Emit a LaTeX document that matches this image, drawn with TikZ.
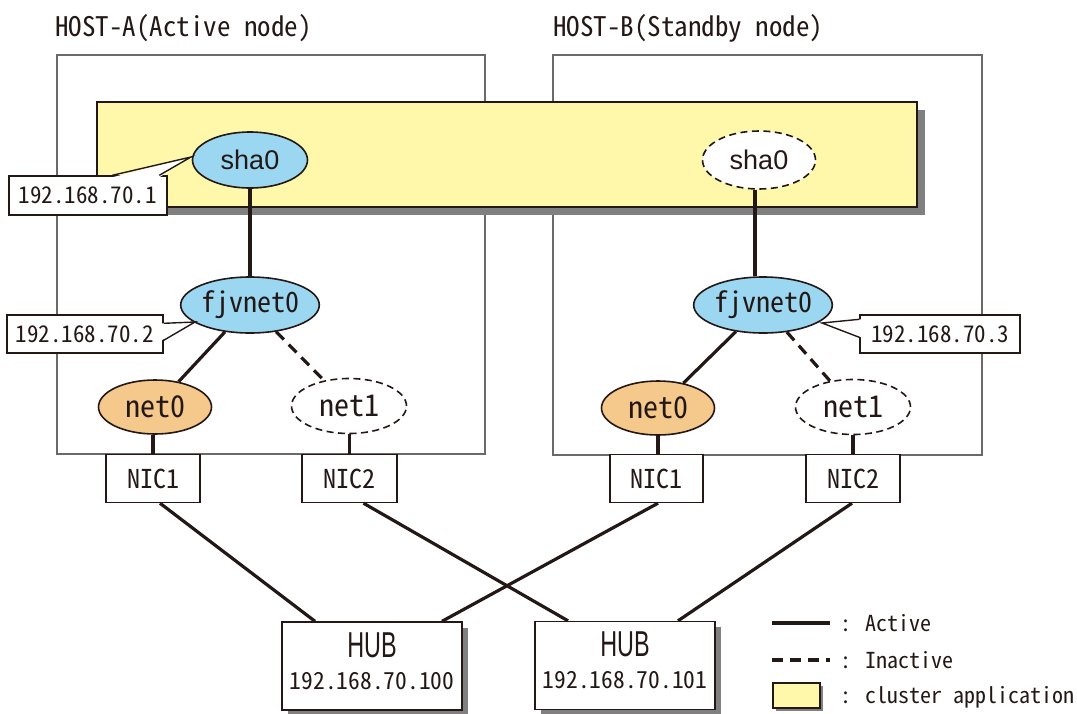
\documentclass[tikz,border=0pt]{standalone}
\usepackage{fontspec}
\usetikzlibrary{shapes.geometric,calc}
\newfontfamily\mono{Noto Sans CJK JP}[RawFeature=+hwid]
\newfontfamily\sansA{Liberation Sans}
\newfontfamily\sansN{Liberation Sans}[FakeStretch=0.65]
\newcommand\fs[1]{\fontsize{#1}{#1}\selectfont}
\definecolor{linecol}{HTML}{231815}
\definecolor{hostgray}{HTML}{6A6A6A}
\definecolor{skyblue}{RGB}{155,215,240}
\definecolor{orangefill}{RGB}{245,200,140}
\definecolor{clusteryellow}{RGB}{255,247,170}
\definecolor{shadowgray}{HTML}{808080}
\begin{document}
\begin{tikzpicture}[x=1pt,y=-1pt,
  every node/.style={text=linecol},
  hostbox/.style={rectangle, draw=hostgray, line width=1.6pt, inner sep=0pt},
  hostlabel/.style={anchor=west, inner sep=0pt, font=\mono\fs{27}},
  cluster/.style={rectangle, fill=clusteryellow, draw=linecol, line width=1.2pt, inner sep=0pt},
  ell/.style={ellipse, draw=linecol, line width=1.6pt, inner sep=0pt, minimum width=115pt, minimum height=56pt},
  blueell/.style={ell, fill=skyblue},
  orangeell/.style={ell, fill=orangefill},
  inactell/.style={ell, fill=white, dash pattern=on 7pt off 4.5pt},
  nic/.style={rectangle, draw=linecol, line width=1.4pt, fill=white, minimum width=94pt, minimum height=48pt, inner sep=0pt, font=\mono\fs{26}},
  link/.style={line width=3.2pt, draw=linecol},
  inlink/.style={link, dash pattern=on 11pt off 7pt},
  thin/.style={line width=1.4pt, draw=linecol},
  callout/.style={rectangle, draw=linecol, line width=1.4pt, fill=white, inner sep=0pt, font=\mono\fs{23}},
  hub/.style={rectangle, draw=linecol, line width=1.4pt, fill=white, minimum width=180pt, minimum height=88pt, inner sep=0pt},
  hubtext/.style={inner sep=0pt},
  legtext/.style={anchor=west, inner sep=0pt, font=\mono\fs{22}}
]
\useasboundingbox (0,0) rectangle (1077,713);

% hosts
\node[hostbox, minimum width=428pt, minimum height=399pt] (hostA) at (271,254.5) {};
\node[hostbox, minimum width=429pt, minimum height=400pt] (hostB) at (767.5,255) {};
\node[hostlabel] (labA) at (55,28) {HOST-A(Active node)};
\node[hostlabel] (labB) at (553,28) {HOST-B(Standby node)};

% cluster application
\fill[shadowgray] (105,110) rectangle (925,215);
\node[cluster, minimum width=820pt, minimum height=105pt] (clus) at (507,154.5) {};

% interfaces
\node[blueell, font=\sansA\fs{27}] (shaA) at (250,160) {sha0};
\node[blueell, font=\mono\fs{28}] (fjvA) at (250,305) {fjvnet0};
\node[orangeell, minimum width=113pt, minimum height=54pt, font=\mono\fs{30}] (net0A) at (155,407) {net0};
\node[inactell, minimum height=55pt, font=\mono\fs{30}] (net1A) at (349,406) {net1};
\node[nic] (nic1A) at (153,478.5) {NIC1};
\node[nic, minimum width=95pt] (nic2A) at (349.5,478.5) {NIC2};

\node[inactell, minimum width=113pt, minimum height=58pt, font=\sansA\fs{27}] (shaB) at (759,160) {sha0};
\node[blueell, font=\mono\fs{28}] (fjvB) at (763,305) {fjvnet0};
\node[orangeell, minimum width=113pt, minimum height=54pt, font=\mono\fs{30}] (net0B) at (658,408) {net0};
\node[inactell, minimum height=55pt, font=\mono\fs{30}] (net1B) at (853,407) {net1};
\node[nic, minimum width=93pt] (nic1B) at (656.5,478.5) {NIC1};
\node[nic] (nic2B) at (853,478.5) {NIC2};

% hubs
\fill[shadowgray] (288,628) rectangle (468,716);
\fill[shadowgray] (541,627) rectangle (721,716);
\node[hub] (hub1) at (372,666) {};
\node[hub] (hub2) at (625,665.5) {};
\node[hubtext, font=\sansN\fs{36}] (hub1t) at (372,645) {HUB};
\node[hubtext, font=\mono\fs{23.5}] (hub1a) at (372,681) {192.168.70.100};
\node[hubtext, font=\sansN\fs{36}] (hub2t) at (625,644) {HUB};
\node[hubtext, font=\mono\fs{23.5}] (hub2a) at (625,680) {192.168.70.101};

% links inside hosts
\draw[link] (shaA) -- (fjvA);
\draw[link] (fjvA) -- (net0A);
\draw[inlink] (fjvA) -- (net1A);
\draw[link] (net0A.south -| nic1A) -- (nic1A.north);
\draw[link] (net1A.south -| nic2A) -- (nic2A.north);
\draw[link] ([xshift=-4pt]shaB.south) -- ([xshift=-4pt]shaB.south |- fjvB.north);
\draw[link] (fjvB) -- (net0B);
\draw[inlink] (fjvB) -- (net1B);
\draw[link] (net0B.south) -- (net0B.south |- nic1B.north);
\draw[link] (net1B.south) -- (net1B.south |- nic2B.north);

% links to hubs
\draw[link] ([xshift=7pt]nic1A.south) -- ([xshift=-57pt]hub1.north);
\draw[link] ([xshift=14pt]nic2A.south) -- ([xshift=-57pt]hub2.north);
\draw[link] ([xshift=1.5pt]nic1B.south) -- ([xshift=70pt]hub1.north);
\draw[link] ([xshift=-1pt]nic2B.south) -- ([xshift=53pt]hub2.north);

% callouts
\node[callout, minimum width=158pt, minimum height=39pt] (c1) at (88,195.5) {192.168.70.1};
\coordinate (t1) at (191,157);
\fill[white] ([xshift=104pt,yshift=-2pt]c1.north west) -- (t1) -- ([xshift=151pt,yshift=-2pt]c1.north west) -- cycle;
\draw[thin, line join=miter] ([xshift=104pt]c1.north west) -- (t1) -- ([xshift=151pt]c1.north west);

\node[callout, minimum width=156pt, minimum height=38pt] (c2) at (85,334) {192.168.70.2};
\coordinate (t2) at (195,322);
\fill[white] ([xshift=-2pt,yshift=-9pt]c2.north east) -- (t2) -- ([xshift=-2pt,yshift=-26pt]c2.north east) -- cycle;
\draw[thin] ([yshift=-9pt]c2.north east) -- (t2) -- ([yshift=-26pt]c2.north east);

\node[callout, minimum width=160pt, minimum height=38pt] (c3) at (940,334) {192.168.70.3};
\coordinate (t3) at (822,323);
\fill[white] ([xshift=2pt,yshift=-5pt]c3.north west) -- (t3) -- ([xshift=2pt,yshift=-23pt]c3.north west) -- cycle;
\draw[thin] ([yshift=-5pt]c3.north west) -- (t3) -- ([yshift=-23pt]c3.north west);

% legend
\coordinate (la1) at (772,623); \coordinate (la2) at (830,623);
\draw[link] (la1) -- (la2);
\node[legtext] (lta) at (840,623) {: Active};
\coordinate (li1) at (772,660); \coordinate (li2) at (830,660);
\draw[inlink] (li1) -- (li2);
\node[legtext] (lti) at (840,660) {: Inactive};
\fill[shadowgray] (776,686) rectangle (823,711);
\node[cluster, minimum width=47pt, minimum height=25pt, line width=1.4pt] (lcl) at (796.5,695.5) {};
\node[legtext] (ltc) at (840,697) {: cluster application};
\end{tikzpicture}
\end{document}
